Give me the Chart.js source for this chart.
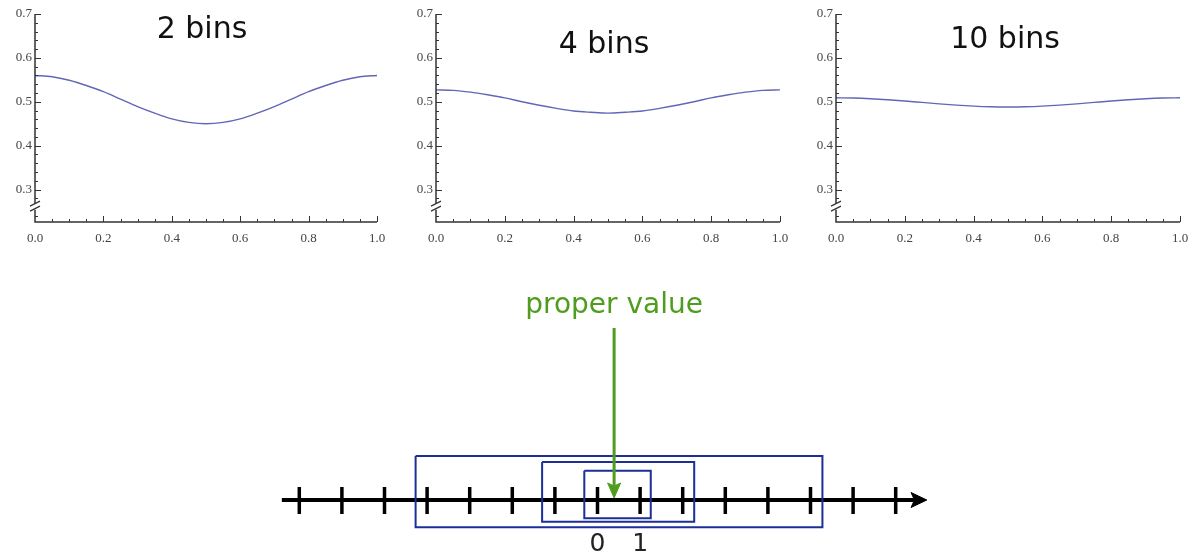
<!DOCTYPE html>
<html><head><meta charset="utf-8">
<script src="https://cdn.jsdelivr.net/npm/chart.js@4/dist/chart.umd.min.js"></script>
<style>
html,body{margin:0;padding:0;background:#fff;}
body{width:1204px;height:560px;position:relative;overflow:hidden;}
canvas{position:absolute;display:block;}
</style></head><body>
<canvas id="c1" width="400" height="250" style="left:0;top:0;width:400px;height:250px"></canvas>
<canvas id="c2" width="400" height="250" style="left:400px;top:0;width:400px;height:250px"></canvas>
<canvas id="c3" width="404" height="250" style="left:800px;top:0;width:404px;height:250px"></canvas>
<canvas id="c4" width="1204" height="280" style="left:0;top:280px;width:1204px;height:280px"></canvas>
<script>
// ---- data: top panels ----
const xPositions = [0,0.05,0.1,0.15,0.2,0.25,0.3,0.35,0.4,0.45,0.5,0.55,0.6,0.65,0.7,0.75,0.8,0.85,0.9,0.95,1.0];
const values2bins  = [0.560,0.557,0.549,0.537,0.523,0.506,0.489,0.474,0.461,0.453,0.450,0.453,0.461,0.474,0.489,0.506,0.523,0.537,0.549,0.557,0.560];
const values4bins  = [0.527,0.526,0.522,0.516,0.509,0.500,0.492,0.485,0.479,0.476,0.474,0.476,0.479,0.485,0.492,0.500,0.509,0.516,0.522,0.526,0.527];
const values10bins = [0.509,0.5085,0.507,0.5047,0.5017,0.4985,0.4953,0.4923,0.490,0.4885,0.488,0.4885,0.490,0.4923,0.4953,0.4985,0.5017,0.5047,0.507,0.5085,0.509];
const panelTitles = ['2 bins','4 bins','10 bins'];
const yTickValues = [0.3,0.4,0.5,0.6,0.7];
const xTickValues = [0,0.2,0.4,0.6,0.8,1.0];

// ---- data: bottom diagram ----
const lineTickValues = [-7,-6,-5,-4,-3,-2,-1,0,1,2,3,4,5,6,7];
const binRanges = [[-0.31,1.25],[-1.30,2.27],[-4.27,5.28]];
const properValue = 0.39;
const properLabel = 'proper value';
const numberLabels = [0,1];

const AXIS = '#333';
const CURVE = 'rgb(98,102,182)';
const BLUE = '#1c2e99';
const GREEN = '#4f9d1e';

const axisDeco = {
  id: 'axisDeco',
  afterDraw(chart) {
    const {ctx, chartArea: a, scales: {x, y}} = chart;
    ctx.save();
    ctx.strokeStyle = AXIS;
    ctx.lineWidth = 1.5;
    ctx.beginPath();
    ctx.moveTo(a.left, a.top); ctx.lineTo(a.left, a.bottom); ctx.lineTo(a.right, a.bottom);
    ctx.stroke();
    ctx.lineWidth = 1;
    ctx.beginPath();
    for (let k = 12; k <= 35; k++) {
      if (k === 13) continue;
      const p = Math.round(y.getPixelForValue(k / 50)) + 0.5;
      const len = (k % 5 === 0) ? 6 : 3;
      ctx.moveTo(a.left, p); ctx.lineTo(a.left + len, p);
    }
    for (let k = 1; k <= 20; k++) {
      const p = Math.round(x.getPixelForValue(k / 20)) + 0.5;
      const len = (k % 4 === 0) ? 6 : 3;
      ctx.moveTo(p, a.bottom); ctx.lineTo(p, a.bottom - len);
    }
    ctx.stroke();
    const pb = y.getPixelForValue(0.261);
    ctx.fillStyle = '#fff';
    ctx.fillRect(a.left - 3, pb - 3, 6, 6);
    ctx.lineWidth = 1.2;
    ctx.beginPath();
    ctx.moveTo(a.left - 5, pb - 0.5); ctx.lineTo(a.left + 5, pb - 5.5);
    ctx.moveTo(a.left - 5, pb + 4.5); ctx.lineTo(a.left + 5, pb - 0.5);
    ctx.stroke();
    const t = chart.options.plugins.axisDeco;
    ctx.fillStyle = '#111';
    ctx.font = t.font;
    ctx.textAlign = 'center';
    ctx.textBaseline = 'alphabetic';
    ctx.fillText(t.text, t.x, t.baseline);
    ctx.restore();
  }
};

function makeTop(id, values, title, axisWidth, rightPad, titleX, titleBase, titleFont) {
  return new Chart(document.getElementById(id), {
    type: 'line',
    data: { datasets: [{
      data: xPositions.map((x, i) => ({x, y: values[i]})),
      borderColor: CURVE, borderWidth: 1.4, pointRadius: 0, cubicInterpolationMode: 'monotone', fill: false
    }]},
    options: {
      responsive: false, animation: false, events: [],
      layout: { padding: { top: 14, right: rightPad, left: 0, bottom: 0 } },
      plugins: { legend: {display: false}, tooltip: {enabled: false},
        axisDeco: { text: title, x: titleX, baseline: titleBase, font: titleFont } },
      scales: {
        x: { type: 'linear', min: 0, max: 1,
          afterBuildTicks: s => { s.ticks = xTickValues.map(v => ({value: v})); },
          ticks: { callback: v => Number(v).toFixed(1), font: {family: 'Liberation Serif', size: 13}, color: '#444', padding: 9, maxRotation: 0, autoSkip: false },
          grid: { display: false, drawTicks: false }, border: { display: false },
          afterFit: s => { s.height = 28; } },
        y: { type: 'linear', min: 0.226, max: 0.7,
          afterBuildTicks: s => { s.ticks = yTickValues.map(v => ({value: v})); },
          ticks: { callback: v => Number(v).toFixed(1), font: {family: 'Liberation Serif', size: 13}, color: '#444', padding: 3, autoSkip: false },
          grid: { display: false, drawTicks: false }, border: { display: false },
          afterFit: s => { s.width = axisWidth; } }
      }
    },
    plugins: [axisDeco]
  });
}

makeTop('c1', values2bins, panelTitles[0], 35, 23, 202, 38, '30px "DejaVu Sans"');
makeTop('c2', values4bins, panelTitles[1], 36, 20, 204, 53, '30px "DejaVu Sans"');
makeTop('c3', values10bins, panelTitles[2], 36, 24, 205, 48, '30px "DejaVu Sans"');

// ---- bottom diagram ----
const tickSegments = [];
lineTickValues.forEach(v => { tickSegments.push({x: v, y: 13}, {x: v, y: -14}, {x: v, y: null}); });
const boxHeights = [[29.3, -18.3], [38, -21.7], [44, -27.3]];
const boxDatasets = binRanges.map((r, i) => {
  const [t, b] = boxHeights[i];
  return { data: [{x: r[0], y: t}, {x: r[1], y: t}, {x: r[1], y: b}, {x: r[0], y: b}, {x: r[0], y: t}],
    borderColor: BLUE, borderWidth: 2, borderJoinStyle: 'miter', pointRadius: 0, showLine: true, fill: false, tension: 0, clip: false, order: 1 };
});
const hw = 6.5 / 42.6;
const textPlugin = {
  id: 'textPlugin',
  afterDraw(chart) {
    const {ctx, scales: {x, y}} = chart;
    ctx.save();
    ctx.fillStyle = GREEN;
    ctx.font = '28px "DejaVu Sans"';
    ctx.textAlign = 'center';
    ctx.textBaseline = 'alphabetic';
    ctx.fillText(properLabel, x.getPixelForValue(properValue), y.getPixelForValue(187));
    ctx.restore();
  }
};
new Chart(document.getElementById('c4'), {
  type: 'scatter',
  data: { datasets: [
    { data: [{x: -7.41, y: 0}, {x: 7.5, y: 0}], borderColor: '#000', borderWidth: 4, pointRadius: 0, showLine: true, clip: false, order: 2 },
    { data: [{x: 7.36, y: 7.5}, {x: 7.73, y: 0}, {x: 7.36, y: -7.5}, {x: 7.44, y: 0}, {x: 7.36, y: 7.5}],
      borderColor: '#000', backgroundColor: '#000', borderWidth: 1, pointRadius: 0, showLine: true, fill: 'shape', clip: false, order: 2 },
    { data: tickSegments, borderColor: '#000', borderWidth: 3.5, pointRadius: 0, showLine: true, spanGaps: false, clip: false, order: 2 },
    ...boxDatasets,
    { data: [{x: properValue, y: 172}, {x: properValue, y: 14}], borderColor: GREEN, borderWidth: 3, pointRadius: 0, showLine: true, clip: false, order: 0 },
    { data: [{x: properValue - hw, y: 17}, {x: properValue, y: 2}, {x: properValue + hw, y: 17}, {x: properValue, y: 14}, {x: properValue - hw, y: 17}],
      borderColor: GREEN, backgroundColor: GREEN, borderWidth: 1, pointRadius: 0, showLine: true, fill: 'shape', clip: false, order: 0 }
  ]},
  options: {
    responsive: false, animation: false, events: [],
    layout: { padding: 0 },
    plugins: { legend: {display: false}, tooltip: {enabled: false} },
    scales: {
      x: { type: 'linear', min: -597.5 / 42.6, max: (1204 - 597.5) / 42.6,
        afterBuildTicks: s => { s.ticks = numberLabels.map(v => ({value: v})); },
        ticks: { callback: v => String(v), font: {family: 'DejaVu Sans', size: 25}, color: '#222', padding: 9, maxRotation: 0, autoSkip: false },
        grid: { display: false, drawTicks: false }, border: { display: false },
        afterFit: s => { s.height = 40; } },
      y: { type: 'linear', min: -20, max: 220, display: false }
    }
  },
  plugins: [textPlugin]
});
</script>
</body></html>
